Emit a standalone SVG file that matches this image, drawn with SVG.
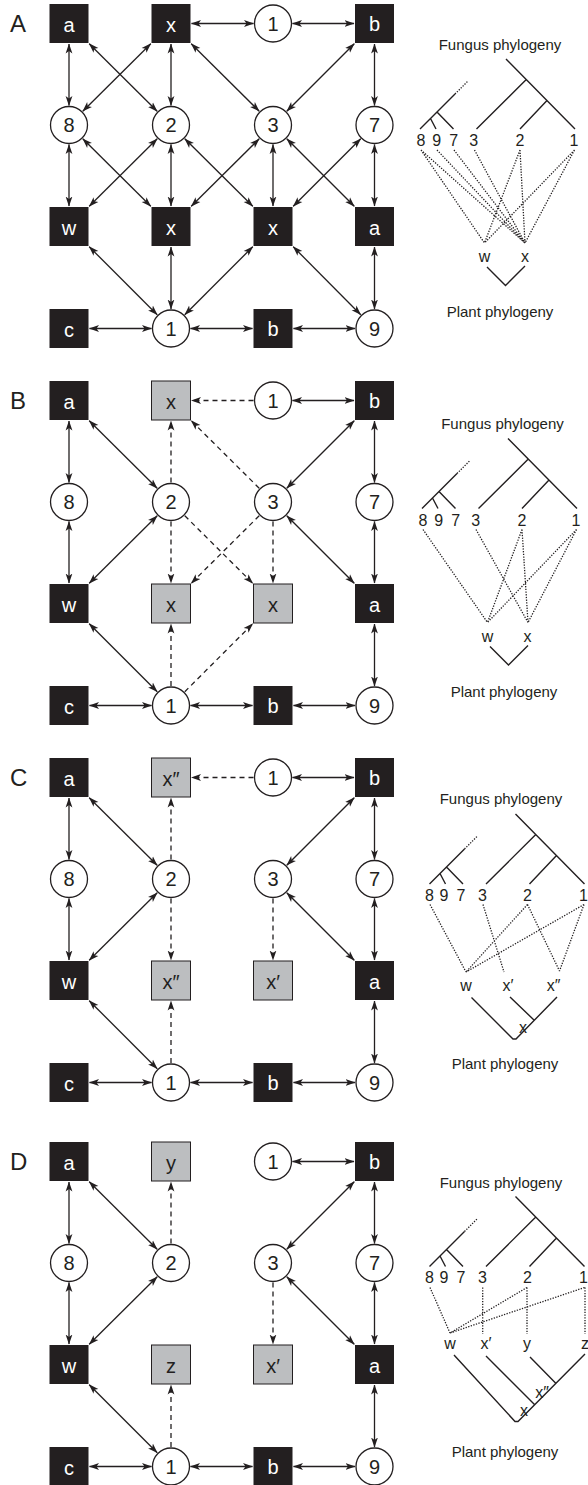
<svg xmlns="http://www.w3.org/2000/svg" xmlns:xlink="http://www.w3.org/1999/xlink" width="588" height="1485" viewBox="0 0 588 1485">
<style>
text{font-family:"Liberation Sans",Arial,Helvetica,sans-serif;fill:#231f20}
.pl{font-size:24px}
.nl{font-size:20px;text-anchor:middle}
.w{fill:#fff}
.blk{fill:#231f20}
.gry{fill:#bcbec0;stroke:#231f20;stroke-width:1}
.cir{fill:#fff;stroke:#231f20;stroke-width:1.3}
.s{fill:none;stroke:#231f20;stroke-width:1.3;marker-start:url(#ah);marker-end:url(#ah)}
.d{fill:none;stroke:#231f20;stroke-width:1.3;stroke-dasharray:5 4;marker-end:url(#ah)}
.tl{fill:none;stroke:#231f20;stroke-width:1.4}
.dot{fill:none;stroke:#231f20;stroke-width:1.3;stroke-dasharray:1.3 1.4}
.tip{font-size:16px;text-anchor:middle}
.ph{font-size:15px;text-anchor:middle}
</style>
<defs>
<marker id="ah" viewBox="0 0 10 8" refX="9.5" refY="4" markerWidth="10" markerHeight="8" markerUnits="userSpaceOnUse" orient="auto-start-reverse">
<path d="M0,0.6 L10,4 L0,7.4 L2.5,4 Z" fill="#231f20"/>
</marker>
<g id="ftree">
<path class="tl" d="M506,59 L575,129 M526.3,79.5 L476.5,129 M547,100.5 L520,129 M420,129 L455,94 M437,112 L453.5,129 M430.5,118.5 L436,129"/>
<path class="dot" d="M455,94 L468,81"/>
</g>
</defs>
<rect width="588" height="1485" fill="#fff"/>

<!-- ================= PANEL A ================= -->
<g id="panelA">
<text class="pl" x="10" y="31.5">A</text>
<g id="A-connectors">
<path class="s" d="M191.5,23.5 H253.5"/>
<path class="s" d="M292.5,23.5 H354"/>
<path class="s" d="M89.5,328.5 H151.5"/>
<path class="s" d="M190.5,328.5 H252.5"/>
<path class="s" d="M293.5,328.5 H355"/>
<path class="s" d="M69,44 V105.5"/>
<path class="s" d="M69,144.5 V206"/>
<path class="s" d="M171,44 V105.5"/>
<path class="s" d="M171,144.5 V206"/>
<path class="s" d="M171,247 V309"/>
<path class="s" d="M273,144.5 V206"/>
<path class="s" d="M374.5,44 V105.5"/>
<path class="s" d="M374.5,144.5 V206"/>
<path class="s" d="M374.5,247 V309"/>
<path class="s" d="M89.2,43.7 L157.2,111.3"/>
<path class="s" d="M150.8,43.7 L82.8,111.2"/>
<path class="s" d="M191.2,43.7 L259.2,111.2"/>
<path class="s" d="M354.3,43.7 L286.8,111.2"/>
<path class="s" d="M82.8,138.8 L150.8,206.3"/>
<path class="s" d="M157.2,138.8 L89.2,206.3"/>
<path class="s" d="M184.8,138.8 L252.8,206.3"/>
<path class="s" d="M259.2,138.8 L191.2,206.3"/>
<path class="s" d="M286.8,138.8 L354.3,206.3"/>
<path class="s" d="M360.7,138.8 L293.2,206.3"/>
<path class="s" d="M89.2,246.7 L157.2,314.7"/>
<path class="s" d="M252.8,246.7 L184.8,314.7"/>
<path class="s" d="M293.2,246.7 L360.7,314.7"/>
</g>
<g id="A-a1"><rect class="blk" x="49.5" y="4" width="39" height="39"/><text class="nl w" x="69" y="31.5">a</text></g>
<g id="A-x1"><rect class="blk" x="151.5" y="4" width="39" height="39"/><text class="nl w" x="171" y="31.5">x</text></g>
<g id="A-f1top"><circle class="cir" cx="273" cy="23.5" r="18.5"/><text class="nl" x="273" y="30.7">1</text></g>
<g id="A-b1"><rect class="blk" x="355" y="4" width="39" height="39"/><text class="nl w" x="374.5" y="31">b</text></g>
<g id="A-f8"><circle class="cir" cx="69" cy="125" r="18.5"/><text class="nl" x="69" y="132.2">8</text></g>
<g id="A-f2"><circle class="cir" cx="171" cy="125" r="18.5"/><text class="nl" x="171" y="132.2">2</text></g>
<g id="A-f3"><circle class="cir" cx="273" cy="125" r="18.5"/><text class="nl" x="273" y="132.2">3</text></g>
<g id="A-f7"><circle class="cir" cx="374.5" cy="125" r="18.5"/><text class="nl" x="374.5" y="132.2">7</text></g>
<g id="A-w"><rect class="blk" x="49.5" y="207" width="39" height="39"/><text class="nl w" x="69" y="234.5">w</text></g>
<g id="A-x2"><rect class="blk" x="151.5" y="207" width="39" height="39"/><text class="nl w" x="171" y="234.5">x</text></g>
<g id="A-x3"><rect class="blk" x="253.5" y="207" width="39" height="39"/><text class="nl w" x="273" y="234.5">x</text></g>
<g id="A-a2"><rect class="blk" x="355" y="207" width="39" height="39"/><text class="nl w" x="374.5" y="234.5">a</text></g>
<g id="A-c"><rect class="blk" x="49.5" y="309" width="39" height="39"/><text class="nl w" x="69" y="336.5">c</text></g>
<g id="A-f1bot"><circle class="cir" cx="171" cy="328.5" r="18.5"/><text class="nl" x="171" y="335.7">1</text></g>
<g id="A-b2"><rect class="blk" x="253.5" y="309" width="39" height="39"/><text class="nl w" x="273" y="336">b</text></g>
<g id="A-f9"><circle class="cir" cx="374.5" cy="328.5" r="18.5"/><text class="nl" x="374.5" y="335.7">9</text></g>
<g id="A-trees">
<text class="ph" x="500" y="50">Fungus phylogeny</text>
<use xlink:href="#ftree" href="#ftree"/>
<text class="tip" x="421" y="146">8</text><text class="tip" x="436.7" y="146">9</text><text class="tip" x="453.8" y="146">7</text><text class="tip" x="473.8" y="146">3</text><text class="tip" x="520" y="146">2</text><text class="tip" x="574" y="146">1</text>
<path class="dot" d="M421,150 L484.5,243 M421,150 L525,243 M437,150 L525,243 M454,150 L525,243 M474.5,150 L525,243 M520,150 L484.5,243 M520,150 L525,243 M574.5,150 L484.5,243 M574.5,150 L525,243"/>
<text class="tip" x="484.5" y="262">w</text><text class="tip" x="525" y="262">x</text>
<path class="tl" d="M487,267 L505.5,285.5 L525,266"/>
<text class="ph" x="500" y="317">Plant phylogeny</text>
</g>
</g>

<!-- ================= PANEL B ================= -->
<g id="panelB">
<text class="pl" x="10" y="408.5">B</text>
<g transform="translate(0,377)">
<g id="B-connectors">
<path class="d" d="M253.5,23.5 H191.5"/>
<path class="s" d="M292.5,23.5 H354"/>
<path class="s" d="M89.5,328.5 H151.5"/>
<path class="s" d="M190.5,328.5 H252.5"/>
<path class="s" d="M293.5,328.5 H355"/>
<path class="s" d="M69,44 V105.5"/>
<path class="s" d="M69,144.5 V206"/>
<path class="d" d="M171,105.5 V44"/>
<path class="d" d="M171,144.5 V206"/>
<path class="d" d="M171,309 V247"/>
<path class="d" d="M273,144.5 V206"/>
<path class="s" d="M374.5,44 V105.5"/>
<path class="s" d="M374.5,144.5 V206"/>
<path class="s" d="M374.5,247 V309"/>
<path class="s" d="M89.2,43.7 L157.2,111.3"/>
<path class="d" d="M259.2,111.2 L191.2,43.7"/>
<path class="s" d="M354.3,43.7 L286.8,111.2"/>
<path class="s" d="M157.2,138.8 L89.2,206.3"/>
<path class="d" d="M184.8,138.8 L252.8,206.3"/>
<path class="d" d="M259.2,138.8 L191.2,206.3"/>
<path class="s" d="M286.8,138.8 L354.3,206.3"/>
<path class="s" d="M89.2,246.7 L157.2,314.7"/>
<path class="d" d="M184.8,314.7 L252.8,246.7"/>
</g>
<g id="B-a1"><rect class="blk" x="49.5" y="4" width="39" height="39"/><text class="nl w" x="69" y="31.5">a</text></g>
<g id="B-x1"><rect class="gry" x="151.5" y="4" width="39" height="39"/><text class="nl" x="171" y="31.5">x</text></g>
<g id="B-f1top"><circle class="cir" cx="273" cy="23.5" r="18.5"/><text class="nl" x="273" y="30.7">1</text></g>
<g id="B-b1"><rect class="blk" x="355" y="4" width="39" height="39"/><text class="nl w" x="374.5" y="31">b</text></g>
<g id="B-f8"><circle class="cir" cx="69" cy="125" r="18.5"/><text class="nl" x="69" y="132.2">8</text></g>
<g id="B-f2"><circle class="cir" cx="171" cy="125" r="18.5"/><text class="nl" x="171" y="132.2">2</text></g>
<g id="B-f3"><circle class="cir" cx="273" cy="125" r="18.5"/><text class="nl" x="273" y="132.2">3</text></g>
<g id="B-f7"><circle class="cir" cx="374.5" cy="125" r="18.5"/><text class="nl" x="374.5" y="132.2">7</text></g>
<g id="B-w"><rect class="blk" x="49.5" y="207" width="39" height="39"/><text class="nl w" x="69" y="234.5">w</text></g>
<g id="B-x2"><rect class="gry" x="151.5" y="207" width="39" height="39"/><text class="nl" x="171" y="234.5">x</text></g>
<g id="B-x3"><rect class="gry" x="253.5" y="207" width="39" height="39"/><text class="nl" x="273" y="234.5">x</text></g>
<g id="B-a2"><rect class="blk" x="355" y="207" width="39" height="39"/><text class="nl w" x="374.5" y="234.5">a</text></g>
<g id="B-c"><rect class="blk" x="49.5" y="309" width="39" height="39"/><text class="nl w" x="69" y="336.5">c</text></g>
<g id="B-f1bot"><circle class="cir" cx="171" cy="328.5" r="18.5"/><text class="nl" x="171" y="335.7">1</text></g>
<g id="B-b2"><rect class="blk" x="253.5" y="309" width="39" height="39"/><text class="nl w" x="273" y="336">b</text></g>
<g id="B-f9"><circle class="cir" cx="374.5" cy="328.5" r="18.5"/><text class="nl" x="374.5" y="335.7">9</text></g>
</g>
<g id="B-trees">
<text class="ph" x="502.5" y="429">Fungus phylogeny</text>
<use xlink:href="#ftree" href="#ftree" x="2" y="379.5"/>
<text class="tip" x="423" y="525.5">8</text><text class="tip" x="438.7" y="525.5">9</text><text class="tip" x="455.8" y="525.5">7</text><text class="tip" x="475.8" y="525.5">3</text><text class="tip" x="522" y="525.5">2</text><text class="tip" x="576" y="525.5">1</text>
<path class="dot" d="M423,529.5 L487.5,622.5 M476,529.5 L528,622.5 M522,529.5 L487.5,622.5 M522,529.5 L528,622.5 M576.5,529.5 L487.5,622.5 M576.5,529.5 L528,622.5"/>
<text class="tip" x="487.5" y="641.5">w</text><text class="tip" x="527.5" y="641.5">x</text>
<path class="tl" d="M490,646.5 L508.5,665 L528,645.5"/>
<text class="ph" x="504" y="697">Plant phylogeny</text>
</g>
</g>

<!-- ================= PANEL C ================= -->
<g id="panelC">
<text class="pl" x="10" y="786">C</text>
<g transform="translate(0,754)">
<g id="C-connectors">
<path class="d" d="M253.5,23.5 H191.5"/>
<path class="s" d="M292.5,23.5 H354"/>
<path class="s" d="M89.5,328.5 H151.5"/>
<path class="s" d="M190.5,328.5 H252.5"/>
<path class="s" d="M293.5,328.5 H355"/>
<path class="s" d="M69,44 V105.5"/>
<path class="s" d="M69,144.5 V206"/>
<path class="d" d="M171,105.5 V44"/>
<path class="d" d="M171,144.5 V206"/>
<path class="d" d="M171,309 V247"/>
<path class="d" d="M273,144.5 V206"/>
<path class="s" d="M374.5,44 V105.5"/>
<path class="s" d="M374.5,144.5 V206"/>
<path class="s" d="M374.5,247 V309"/>
<path class="s" d="M89.2,43.7 L157.2,111.3"/>
<path class="s" d="M354.3,43.7 L286.8,111.2"/>
<path class="s" d="M157.2,138.8 L89.2,206.3"/>
<path class="s" d="M286.8,138.8 L354.3,206.3"/>
<path class="s" d="M89.2,246.7 L157.2,314.7"/>
</g>
<g id="C-a1"><rect class="blk" x="49.5" y="4" width="39" height="39"/><text class="nl w" x="69" y="31.5">a</text></g>
<g id="C-x2top"><rect class="gry" x="151.5" y="4" width="39" height="39"/><text class="nl" x="171" y="31.5">x″</text></g>
<g id="C-f1top"><circle class="cir" cx="273" cy="23.5" r="18.5"/><text class="nl" x="273" y="30.7">1</text></g>
<g id="C-b1"><rect class="blk" x="355" y="4" width="39" height="39"/><text class="nl w" x="374.5" y="31">b</text></g>
<g id="C-f8"><circle class="cir" cx="69" cy="125" r="18.5"/><text class="nl" x="69" y="132.2">8</text></g>
<g id="C-f2"><circle class="cir" cx="171" cy="125" r="18.5"/><text class="nl" x="171" y="132.2">2</text></g>
<g id="C-f3"><circle class="cir" cx="273" cy="125" r="18.5"/><text class="nl" x="273" y="132.2">3</text></g>
<g id="C-f7"><circle class="cir" cx="374.5" cy="125" r="18.5"/><text class="nl" x="374.5" y="132.2">7</text></g>
<g id="C-w"><rect class="blk" x="49.5" y="207" width="39" height="39"/><text class="nl w" x="69" y="234.5">w</text></g>
<g id="C-x2bot"><rect class="gry" x="151.5" y="207" width="39" height="39"/><text class="nl" x="171" y="234.5">x″</text></g>
<g id="C-x1"><rect class="gry" x="253.5" y="207" width="39" height="39"/><text class="nl" x="273" y="234.5">x′</text></g>
<g id="C-a2"><rect class="blk" x="355" y="207" width="39" height="39"/><text class="nl w" x="374.5" y="234.5">a</text></g>
<g id="C-c"><rect class="blk" x="49.5" y="309" width="39" height="39"/><text class="nl w" x="69" y="336.5">c</text></g>
<g id="C-f1bot"><circle class="cir" cx="171" cy="328.5" r="18.5"/><text class="nl" x="171" y="335.7">1</text></g>
<g id="C-b2"><rect class="blk" x="253.5" y="309" width="39" height="39"/><text class="nl w" x="273" y="336">b</text></g>
<g id="C-f9"><circle class="cir" cx="374.5" cy="328.5" r="18.5"/><text class="nl" x="374.5" y="335.7">9</text></g>
</g>
<g id="C-trees">
<text class="ph" x="501" y="804">Fungus phylogeny</text>
<use xlink:href="#ftree" href="#ftree" x="9.5" y="755"/>
<text class="tip" x="429.5" y="901">8</text><text class="tip" x="444" y="901">9</text><text class="tip" x="461" y="901">7</text><text class="tip" x="482.5" y="901">3</text><text class="tip" x="527.5" y="901">2</text><text class="tip" x="583.5" y="901">1</text>
<path class="dot" d="M430,904.5 L466,972 M527.5,904.5 L466,972 M527.5,904.5 L559.5,971 M483,904.5 L504,972 M584,904.5 L466,972 M584,904.5 L559.5,971"/>
<text class="tip" x="466" y="990.5">w</text><text class="tip" x="508" y="990.5">x′</text><text class="tip" x="553.5" y="990.5">x″</text>
<path class="tl" d="M471.5,997.5 L513,1039 L516,1039 L557,997 M510,997 L534.5,1020.5"/>
<text class="tip" x="523" y="1032.5">x</text>
<text class="ph" x="505" y="1068.5">Plant phylogeny</text>
</g>
</g>

<!-- ================= PANEL D ================= -->
<g id="panelD">
<text class="pl" x="10" y="1170">D</text>
<g transform="translate(0,1138)">
<g id="D-connectors">
<path class="s" d="M292.5,23.5 H354"/>
<path class="s" d="M89.5,328.5 H151.5"/>
<path class="s" d="M190.5,328.5 H252.5"/>
<path class="s" d="M293.5,328.5 H355"/>
<path class="s" d="M69,44 V105.5"/>
<path class="s" d="M69,144.5 V206"/>
<path class="d" d="M171,105.5 V44"/>
<path class="d" d="M171,309 V247"/>
<path class="d" d="M273,144.5 V206"/>
<path class="s" d="M374.5,44 V105.5"/>
<path class="s" d="M374.5,144.5 V206"/>
<path class="s" d="M374.5,247 V309"/>
<path class="s" d="M89.2,43.7 L157.2,111.3"/>
<path class="s" d="M354.3,43.7 L286.8,111.2"/>
<path class="s" d="M157.2,138.8 L89.2,206.3"/>
<path class="s" d="M286.8,138.8 L354.3,206.3"/>
<path class="s" d="M89.2,246.7 L157.2,314.7"/>
</g>
<g id="D-a1"><rect class="blk" x="49.5" y="4" width="39" height="39"/><text class="nl w" x="69" y="31.5">a</text></g>
<g id="D-y"><rect class="gry" x="151.5" y="4" width="39" height="39"/><text class="nl" x="171" y="31.5">y</text></g>
<g id="D-f1top"><circle class="cir" cx="273" cy="23.5" r="18.5"/><text class="nl" x="273" y="30.7">1</text></g>
<g id="D-b1"><rect class="blk" x="355" y="4" width="39" height="39"/><text class="nl w" x="374.5" y="31">b</text></g>
<g id="D-f8"><circle class="cir" cx="69" cy="125" r="18.5"/><text class="nl" x="69" y="132.2">8</text></g>
<g id="D-f2"><circle class="cir" cx="171" cy="125" r="18.5"/><text class="nl" x="171" y="132.2">2</text></g>
<g id="D-f3"><circle class="cir" cx="273" cy="125" r="18.5"/><text class="nl" x="273" y="132.2">3</text></g>
<g id="D-f7"><circle class="cir" cx="374.5" cy="125" r="18.5"/><text class="nl" x="374.5" y="132.2">7</text></g>
<g id="D-w"><rect class="blk" x="49.5" y="207" width="39" height="39"/><text class="nl w" x="69" y="234.5">w</text></g>
<g id="D-z"><rect class="gry" x="151.5" y="207" width="39" height="39"/><text class="nl" x="171" y="234.5">z</text></g>
<g id="D-x1"><rect class="gry" x="253.5" y="207" width="39" height="39"/><text class="nl" x="273" y="234.5">x′</text></g>
<g id="D-a2"><rect class="blk" x="355" y="207" width="39" height="39"/><text class="nl w" x="374.5" y="234.5">a</text></g>
<g id="D-c"><rect class="blk" x="49.5" y="309" width="39" height="39"/><text class="nl w" x="69" y="336.5">c</text></g>
<g id="D-f1bot"><circle class="cir" cx="171" cy="328.5" r="18.5"/><text class="nl" x="171" y="335.7">1</text></g>
<g id="D-b2"><rect class="blk" x="253.5" y="309" width="39" height="39"/><text class="nl w" x="273" y="336">b</text></g>
<g id="D-f9"><circle class="cir" cx="374.5" cy="328.5" r="18.5"/><text class="nl" x="374.5" y="335.7">9</text></g>
</g>
<g id="D-trees">
<text class="ph" x="501" y="1188">Fungus phylogeny</text>
<use xlink:href="#ftree" href="#ftree" x="9.5" y="1137.5"/>
<text class="tip" x="429.5" y="1283">8</text><text class="tip" x="444" y="1283">9</text><text class="tip" x="461" y="1283">7</text><text class="tip" x="482.5" y="1283">3</text><text class="tip" x="527.5" y="1283">2</text><text class="tip" x="583.5" y="1283">1</text>
<path class="dot" d="M430,1287.5 L450,1333 M527,1287.5 L450,1333 M527,1287.5 L527,1334 M482.7,1287.5 L482.7,1334 M584.5,1287.5 L450,1333 M585,1287.5 L585,1334"/>
<text class="tip" x="450" y="1349">w</text><text class="tip" x="486" y="1349">x′</text><text class="tip" x="527" y="1349">y</text><text class="tip" x="585" y="1349">z</text>
<path class="tl" d="M454,1355 L515,1421.5 L518,1421.5 L585,1354 M486,1356 L535,1405 M530,1357 L556,1383.5"/>
<text class="tip" x="542" y="1398">x″</text>
<text class="tip" x="524" y="1416">x</text>
<text class="ph" x="505" y="1457">Plant phylogeny</text>
</g>
</g>
</svg>
